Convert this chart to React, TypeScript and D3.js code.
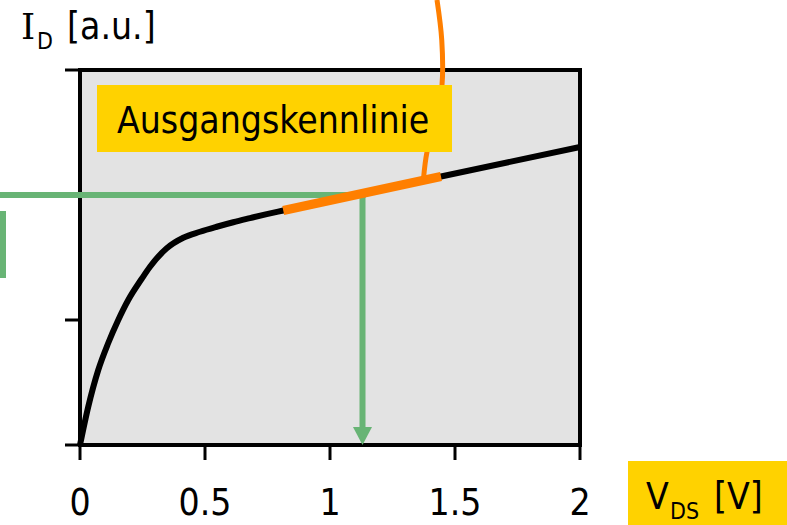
import React from "react";
import * as d3 from "d3";

// Output characteristic (Ausgangskennlinie): V_DS [V] vs I_D [a.u.]
const vds = [0, 0.033, 0.073, 0.113, 0.153, 0.193, 0.247, 0.28, 0.347, 0.413, 0.48, 0.547, 0.613, 0.68, 0.747, 0.813, 1.128, 1.444, 2.0];
const id = [0, 0.306, 0.6, 0.816, 1.0, 1.16, 1.33, 1.426, 1.574, 1.658, 1.706, 1.746, 1.782, 1.815, 1.847, 1.876, 2.012, 2.148, 2.384];

// highlighted operating region of the curve
const highlightFrom = 0.813;
const highlightTo = 1.444;

// operating point (green guide lines)
const opV = 1.13;
const opI = 2.0;

// orange leader line from the top of the picture down to the highlighted region
const leaderV = [1.428, 1.447, 1.448, 1.424, 1.388, 1.374];
const leaderI = [3.56, 3.24, 2.88, 2.6, 2.344, 2.13];

const xTicks = [0, 0.5, 1, 1.5, 2];
const xTickLabels = ["0", "0.5", "1", "1.5", "2"];
const yTicks = [0, 1, 3];

const FONT = "'DejaVu Sans Condensed', 'DejaVu Sans', Verdana, sans-serif";
const GRAY = "#e3e3e3";
const YELLOW = "#ffd200";
const ORANGE = "#ff7f00";
const GREEN = "#68b475";

export default function App() {
  const W = 787;
  const H = 525;
  const x = d3.scaleLinear().domain([0, 2]).range([80, 580]);
  const y = d3.scaleLinear().domain([0, 3]).range([445, 70]);

  const pts: [number, number][] = vds.map((v, i) => [v, id[i]]);
  const line = d3
    .line<[number, number]>()
    .x((d) => x(d[0]))
    .y((d) => y(d[1]))
    .curve(d3.curveMonotoneX);
  const hiPts = pts.filter((p) => p[0] >= highlightFrom - 1e-9 && p[0] <= highlightTo + 1e-9);
  const hiLine = d3
    .line<[number, number]>()
    .x((d) => x(d[0]))
    .y((d) => y(d[1]));
  const leaderPts: [number, number][] = leaderV.map((v, i) => [v, leaderI[i]]);
  const leaderLine = d3
    .line<[number, number]>()
    .x((d) => x(d[0]))
    .y((d) => y(d[1]))
    .curve(d3.curveCatmullRom);

  const [x0, x1] = x.range();
  const [yb, yt] = y.range();
  const arrowLen = 18;
  const arrowHalf = 9.5;

  return (
    <svg
      width={W}
      height={H}
      style={{ position: "absolute", left: 0, top: 0, background: "#fff" }}
      fontFamily={FONT}
    >
      {/* plot background */}
      <rect x={x0} y={yt} width={x1 - x0} height={yb - yt} fill={GRAY} stroke="#000" strokeWidth={4} />

      {/* y ticks */}
      {yTicks.map((t) => (
        <line key={"y" + t} x1={x0 - 15} x2={x0} y1={y(t)} y2={y(t)} stroke="#000" strokeWidth={3} />
      ))}
      {/* x ticks */}
      {xTicks.map((t, i) => (
        <g key={"x" + t}>
          <line x1={x(t)} x2={x(t)} y1={yb} y2={yb + 15} stroke="#000" strokeWidth={3} />
          <text x={x(t)} y={515} textAnchor="middle" fontSize={37} fill="#000">
            {xTickLabels[i]}
          </text>
        </g>
      ))}

      {/* green guide lines */}
      <line x1={0} x2={x(opV) + 3} y1={y(opI)} y2={y(opI)} stroke={GREEN} strokeWidth={6} />
      <line x1={x(opV)} x2={x(opV)} y1={y(opI)} y2={yb - arrowLen} stroke={GREEN} strokeWidth={6} />
      <polygon
        points={`${x(opV) - arrowHalf},${yb - arrowLen} ${x(opV) + arrowHalf},${yb - arrowLen} ${x(opV)},${yb}`}
        fill={GREEN}
      />
      <line x1={3} x2={3} y1={211} y2={278} stroke={GREEN} strokeWidth={6} />

      {/* characteristic curve */}
      <path d={line(pts) || ""} fill="none" stroke="#000" strokeWidth={6} />
      <path d={hiLine(hiPts) || ""} fill="none" stroke={ORANGE} strokeWidth={9} />
      <path d={leaderLine(leaderPts) || ""} fill="none" stroke={ORANGE} strokeWidth={5} />

      {/* label box */}
      <rect x={97} y={85} width={355} height={67} fill={YELLOW} />
      <text x={117} y={133} fontSize={37} fill="#000">
        Ausgangskennlinie
      </text>

      {/* axis titles */}
      <text y={39} fontSize={37} fill="#000">
        <tspan x={21} fontFamily="'DejaVu Serif', serif" fontSize={36}>I</tspan>
        <tspan x={37} dy={10} fontSize={23}>D</tspan>
        <tspan x={67} dy={-10}>[a.u.]</tspan>
      </text>

      <rect x={628} y={461} width={159} height={64} fill={YELLOW} />
      <text y={509} fontSize={37} fill="#000">
        <tspan x={646}>V</tspan>
        <tspan x={670} dy={10} fontSize={23}>DS</tspan>
        <tspan x={714} dy={-10}>[V]</tspan>
      </text>
    </svg>
  );
}
